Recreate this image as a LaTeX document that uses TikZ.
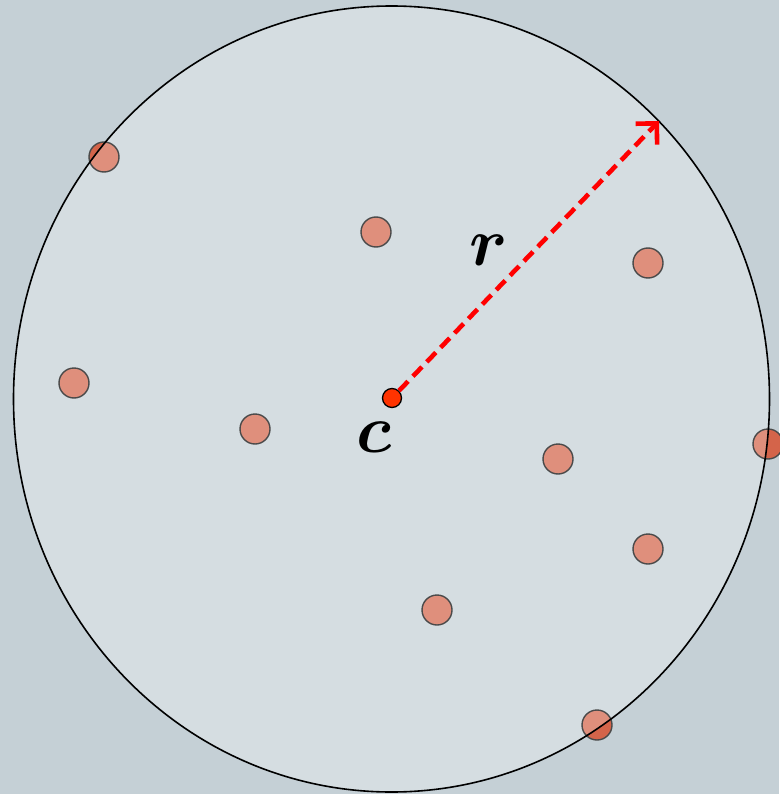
\documentclass[tikz,border=0pt]{standalone}
\usepackage{amsmath, amssymb, bm}
\usetikzlibrary{arrows.meta}

\definecolor{bgblue}{HTML}{C5D0D6}
\definecolor{ptred}{HTML}{D4644A}
\definecolor{ptline}{HTML}{4A4A4A}
\definecolor{ctrred}{HTML}{FF3300}

\begin{document}
\begin{tikzpicture}[
    x=1pt, y=-1pt,
    datapoint/.style={circle, fill=ptred, minimum size=30pt, inner sep=0pt},
    ptrim/.style={draw=ptline, line width=1.4pt},
    centerdot/.style={circle, draw=black, line width=1.3pt, fill=ctrred,
        minimum size=19pt, inner sep=0pt},
    biglabel/.style={font=\Huge, scale=2.75}
]

% ===== Background =====
\fill[bgblue] (0, 0) rectangle (779, 794);
\useasboundingbox (0, 0) rectangle (779, 794);

% --- Data points (fill below the disc) ---
\foreach \name/\px/\py in {p1/104/157, p2/376/232, p3/648/263, p4/74/383,
    p5/255/429, p6/558/459, p7/768/444, p8/648/549, p9/437/610, p10/597/725}
    \node[datapoint] (\name) at (\px, \py) {};

% --- Enclosing disc ---
\fill[white, fill opacity=0.28]
    (391.5, 399) ellipse [x radius=378, y radius=393];

% --- Point outlines ---
\foreach \name in {p1, p2, p3, p4, p5, p6, p7, p8, p9, p10}
    \draw[ptrim] (\name.center) circle (15);

\draw[line width=1.6pt] (391.5, 399) ellipse [x radius=378, y radius=393];

% --- Centre and radius ---
\node[centerdot] (c) at (392, 398) {};
\coordinate (rim) at (659, 121);
\draw[red, line width=4.6pt, dash pattern=on 13pt off 7pt,
    -{Straight Barb[length=15pt, width=30pt, line width=4.6pt]}] (c) -- (rim);

% --- Labels ---
\node[biglabel] (clabel) at (374, 437) {$\bm{c}$};
\node[biglabel] (rlabel) at (489, 250) {$\bm{r}$};

\end{tikzpicture}
\end{document}
